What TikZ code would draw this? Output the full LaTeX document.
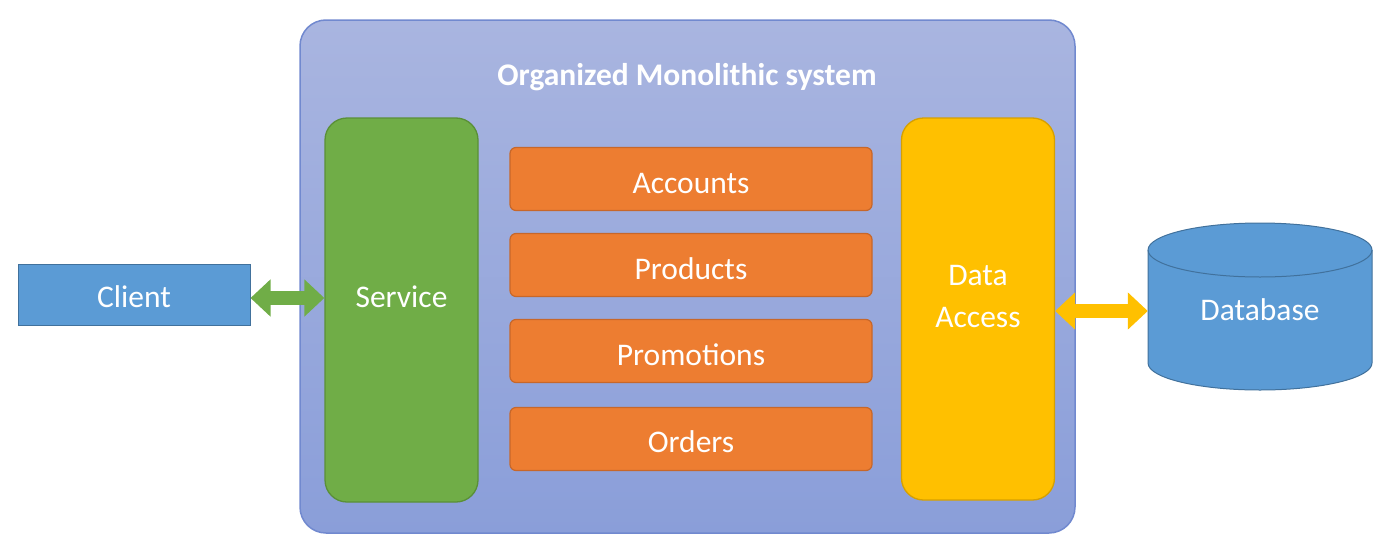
\documentclass[tikz,border=0pt]{standalone}
\usepackage{fontspec}
\setmainfont{Carlito}
\usetikzlibrary{arrows.meta,calc}
\definecolor{outerT}{HTML}{A9B5E0}
\definecolor{outerB}{HTML}{8A9ED9}
\definecolor{outerD}{HTML}{7189CF}
\definecolor{grn}{HTML}{70AD47}
\definecolor{grnD}{HTML}{5A9037}
\definecolor{org}{HTML}{ED7D31}
\definecolor{orgD}{HTML}{C7672A}
\definecolor{ylw}{HTML}{FFC000}
\definecolor{ylwD}{HTML}{D6A000}
\definecolor{blu}{HTML}{5B9BD5}
\definecolor{bluD}{HTML}{41719C}
\tikzset{
  lbl/.style={text=white,font=\fontsize{31.5}{36}\selectfont,anchor=base,inner sep=0pt},
  outerbox/.style={draw=outerD,line width=1.5pt,rounded corners=26pt,top color=outerT,bottom color=outerB,minimum width=775pt,minimum height=513pt},
  colbox/.style={rounded corners=22pt,line width=1.3pt,minimum width=153pt,minimum height=384pt},
  modbox/.style={fill=org,draw=orgD,line width=1.2pt,rounded corners=6pt,minimum width=362pt,minimum height=63pt},
  blockarrow/.style={line width=14pt,draw=#1,{Triangle[length=20pt,width=36pt]}-{Triangle[length=20pt,width=36pt]}},
}
\begin{document}
\begin{tikzpicture}[x=1pt,y=1pt]
\useasboundingbox (0,0) rectangle (1386,-557);
\node[outerbox] (outer) at (687.5,-276.5) {};
\node[lbl,font=\bfseries\fontsize{31.5}{36}\selectfont] (title) at (687,-85) {Organized Monolithic system};
\node[colbox,fill=grn,draw=grnD] (service) at (401.5,-310) {};
\node[colbox,fill=ylw,draw=ylwD,minimum height=382pt] (da) at (978,-309) {};
\node[modbox] (acc) at (691,-179) {};
\node[modbox] (prod) at (691,-265) {};
\node[modbox] (promo) at (691,-351) {};
\node[modbox] (ord) at (691,-439) {};
\node[fill=blu,draw=bluD,line width=1pt,minimum width=232pt,minimum height=61pt] (client) at (134,-294.5) {};
\node[minimum width=224pt,minimum height=167pt,inner sep=0pt] (db) at (1260,-306.5) {};
\fill[blu,draw=bluD,line width=1pt] (1148,-250) -- (1148,-363) arc (180:360:112 and 27) -- (1372,-250) arc (0:180:112 and 27) -- cycle;
\draw[bluD,line width=1pt] (1148,-250) arc (180:360:112 and 27);
% labels
\node[lbl] (tservice) at (service.center |- 0,-307) {Service};
\node[lbl] (tdata) at (da.center |- 0,-285) {Data};
\node[lbl] (taccess) at (da.center |- 0,-327) {Access};
\node[lbl] (tacc) at (acc.center |- 0,-193) {Accounts};
\node[lbl] (tprod) at (prod.center |- 0,-279) {Products};
\node[lbl] (tpromo) at (promo.center |- 0,-365) {Promotions};
\node[lbl] (tord) at (ord.center |- 0,-452) {Orders};
\node[lbl] (tclient) at (client.center |- 0,-307) {Client};
\node[lbl] (tdb) at (db.center |- 0,-320) {Database};
% arrows
\draw[blockarrow=grn] (client.east |- 0,-298) -- (service.west |- 0,-298);
\draw[blockarrow=ylw] (da.east |- 0,-311) -- (db.west |- 0,-311);
\end{tikzpicture}
\end{document}
